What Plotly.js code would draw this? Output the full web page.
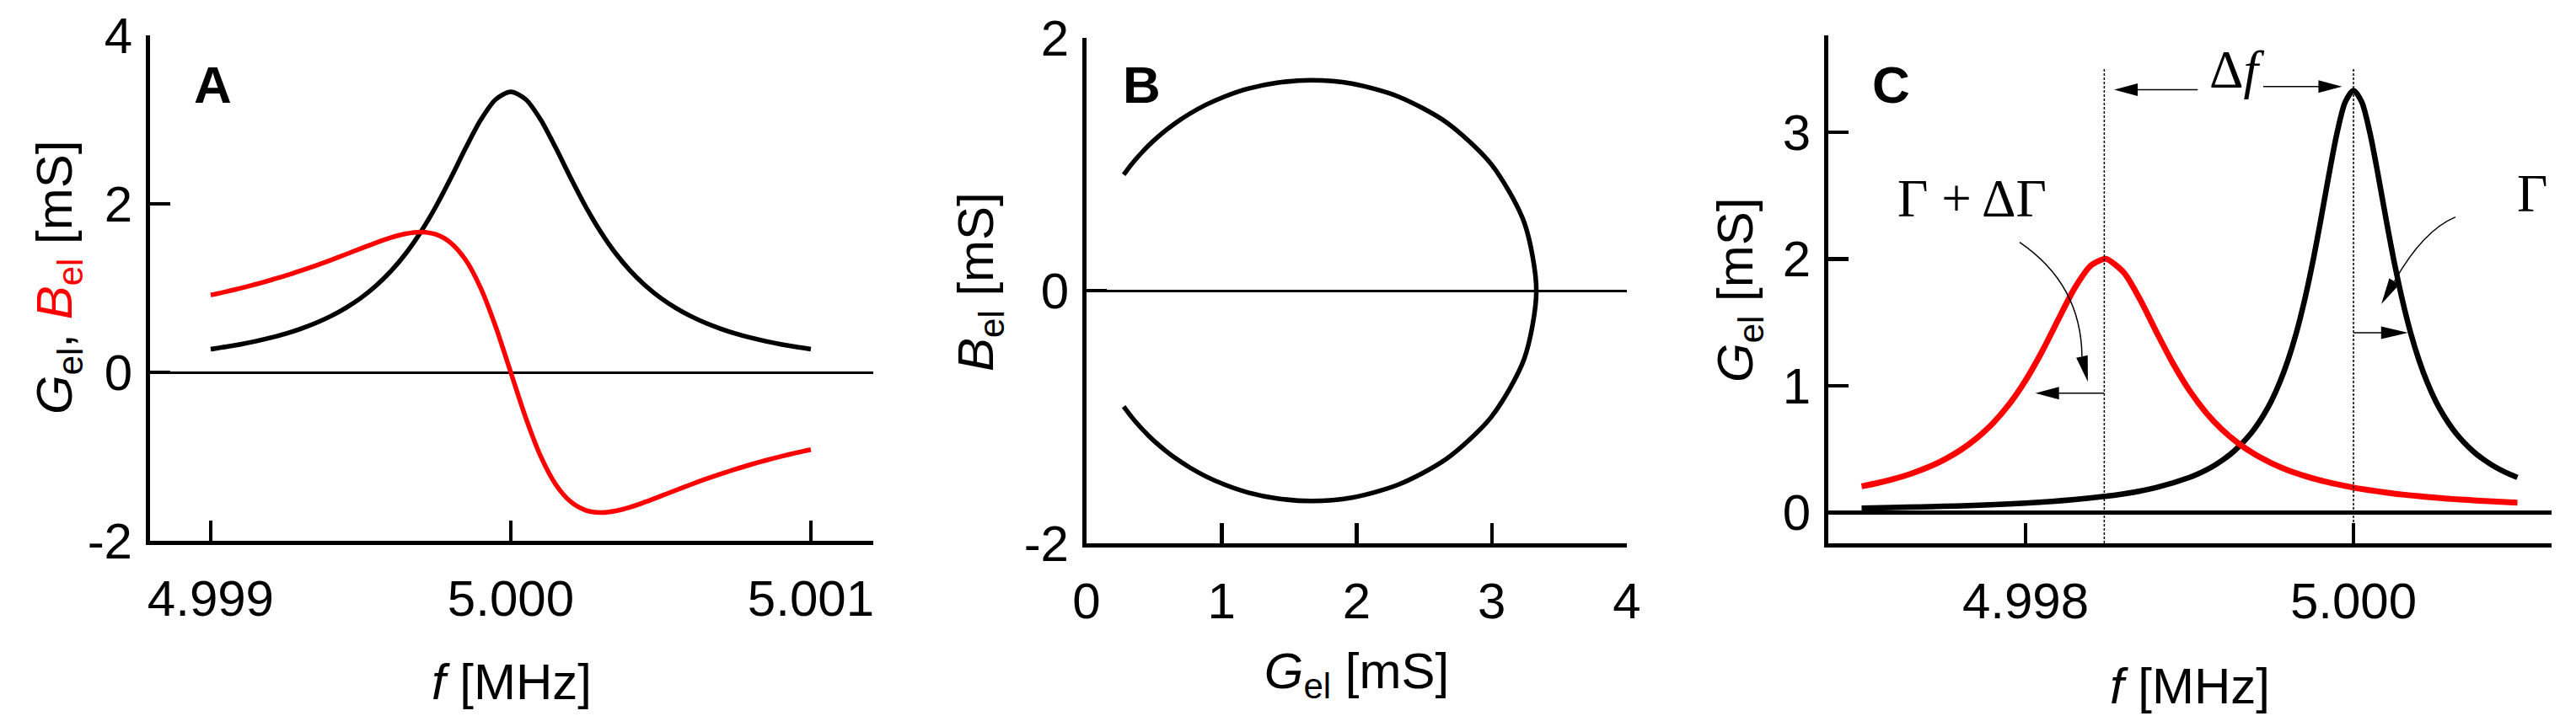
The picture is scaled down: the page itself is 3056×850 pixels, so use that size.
<!DOCTYPE html>
<html><head><meta charset="utf-8">
<script src="https://cdn.plot.ly/plotly-3.0.1.min.js"></script>
<style>html,body{margin:0;padding:0;background:#fff}</style>
</head><body>
<div id="chart" style="width:3056px;height:850px"></div>
<script>
// ---------- Data ----------
// Panels A and B: frequency [MHz], conductance G_el [mS], susceptance B_el [mS]
const freqA = [4.99900, 4.99905, 4.99910, 4.99915, 4.99920, 4.99925, 4.99930, 4.99935, 4.99940, 4.99945,
               4.99950, 4.99955, 4.99960, 4.99965, 4.99970, 4.99975, 4.99980, 4.99985, 4.99990, 4.99995,
               5.00000,
               5.00005, 5.00010, 5.00015, 5.00020, 5.00025, 5.00030, 5.00035, 5.00040, 5.00045, 5.00050,
               5.00055, 5.00060, 5.00065, 5.00070, 5.00075, 5.00080, 5.00085, 5.00090, 5.00095, 5.00100];
const condA = [0.275, 0.302, 0.333, 0.369, 0.411, 0.459, 0.517, 0.585, 0.666, 0.764,
               0.881, 1.025, 1.199, 1.410, 1.665, 1.965, 2.305, 2.664, 2.997, 3.240,
               3.330,
               3.240, 2.997, 2.664, 2.305, 1.965, 1.665, 1.410, 1.199, 1.025, 0.881,
               0.764, 0.666, 0.585, 0.517, 0.459, 0.411, 0.369, 0.333, 0.302, 0.275];
const suscA = [0.917, 0.956, 0.999, 1.045, 1.095, 1.148, 1.206, 1.267, 1.332, 1.400,
               1.469, 1.537, 1.599, 1.645, 1.665, 1.638, 1.537, 1.332, 0.999, 0.540,
               0.000,
               -0.540, -0.999, -1.332, -1.537, -1.638, -1.665, -1.645, -1.599, -1.537, -1.469,
               -1.400, -1.332, -1.267, -1.206, -1.148, -1.095, -1.045, -0.999, -0.956, -0.917];

// Panel C: low-frequency tail of the unloaded resonance (joined to freqA/condA)
const freqCtail = [4.9970, 4.9975, 4.9980, 4.9983, 4.9986, 4.9988];
const condCtail = [0.033, 0.047, 0.073, 0.101, 0.146, 0.196];

// Panel C: loaded resonance (shifted by Δf, broadened by ΔΓ)
const freqCred = [4.9970, 4.9971, 4.9972, 4.9973, 4.9974, 4.9975, 4.9976, 4.9977, 4.9978, 4.9979,
                  4.9980, 4.9981, 4.9982, 4.9983, 4.9984, 4.99848, 4.9985, 4.9986, 4.9987, 4.9988,
                  4.9989, 4.9990, 4.9991, 4.9992, 4.9993, 4.9994, 4.9995, 4.9996, 4.9997, 4.9998,
                  4.9999, 5.0000, 5.0001, 5.0002, 5.0003, 5.0004, 5.0005, 5.0006, 5.0007, 5.0008,
                  5.0009, 5.0010];
const condCred = [0.205, 0.232, 0.265, 0.304, 0.353, 0.413, 0.488, 0.583, 0.702, 0.853,
                  1.041, 1.268, 1.523, 1.771, 1.950, 2.000, 1.997, 1.891, 1.676, 1.419,
                  1.173, 0.961, 0.788, 0.651, 0.542, 0.456, 0.388, 0.332, 0.288, 0.251,
                  0.221, 0.195, 0.174, 0.156, 0.140, 0.127, 0.116, 0.105, 0.097, 0.089,
                  0.082, 0.076];

// Tick values / labels
const ticksAx = [4.999, 5.000, 5.001];
const ticksAxText = ['4.999', '5.000', '5.001'];
const ticksAy = [-2, 0, 2, 4];
const ticksAyText = ['-2', '0', '2', '4'];
const ticksBx = [0, 1, 2, 3, 4];
const ticksBy = [-2, 0, 2];
const ticksByText = ['-2', '0', '2'];
const ticksCx = [4.998, 5.000];
const ticksCxText = ['4.998', '5.000'];
const ticksCy = [0, 1, 2, 3];

// ---------- Styling ----------
const SANS = 'Liberation Sans, Arial, sans-serif';
const SERIF = 'Liberation Serif, Times New Roman, serif';
const W = 3056, H = 850;
const px = v => v / W;
const py = v => 1 - v / H;

function axis(o) {
  return Object.assign({
    showline: true, linecolor: '#000', linewidth: 5,
    ticks: 'inside', ticklen: 24, tickwidth: 4.5, tickcolor: '#000',
    showgrid: false, zeroline: false, fixedrange: true,
    tickfont: {family: SANS, size: 60, color: '#000'}
  }, o);
}
function ttl(text, standoff) {
  return {text: text, standoff: standoff, font: {family: SANS, size: 60, color: '#000'}};
}

const traces = [
  {x: freqA, y: condA, xaxis: 'x', yaxis: 'y', mode: 'lines',
   line: {color: '#000', width: 5.5, shape: 'spline', smoothing: 0.8}},
  {x: freqA, y: suscA, xaxis: 'x', yaxis: 'y', mode: 'lines',
   line: {color: '#ff0000', width: 5.5, shape: 'spline', smoothing: 0.8}},
  {x: condA, y: suscA, xaxis: 'x2', yaxis: 'y2', mode: 'lines',
   line: {color: '#000', width: 5.5, shape: 'spline', smoothing: 0.8}},
  {x: freqCtail.concat(freqA), y: condCtail.concat(condA), xaxis: 'x3', yaxis: 'y3', mode: 'lines',
   line: {color: '#000', width: 6.5, shape: 'spline', smoothing: 0.8}},
  {x: freqCred, y: condCred, xaxis: 'x3', yaxis: 'y3', mode: 'lines',
   line: {color: '#ff0000', width: 7, shape: 'spline', smoothing: 0.8}}
];

function head(xa, ya, path) {
  return {type: 'path', xref: 'x3', yref: 'y3', xsizemode: 'pixel', ysizemode: 'pixel',
          xanchor: xa, yanchor: ya, path: path, fillcolor: '#000', line: {width: 0}};
}
function seg(x0, y0, x1, y1, extra) {
  return Object.assign({type: 'line', xref: 'x3', yref: 'y3', x0: x0, y0: y0, x1: x1, y1: y1,
                        line: {color: '#000', width: 1.5}}, extra || {});
}

const shapes = [
  seg(4.99848, -0.245, 4.99848, 3.51, {line: {color: '#000', width: 1.5, dash: '3px,2px'}}),
  seg(5.00000, -0.245, 5.00000, 3.51, {line: {color: '#000', width: 1.5, dash: '3px,2px'}}),
  // Δf arrows
  seg(4.99905, 3.336, 4.99856, 3.336),
  head(4.99854, 3.336, 'M0,0 L28,7.5 L28,-7.5 Z'),
  seg(4.99945, 3.361, 4.99991, 3.361),
  head(4.99993, 3.361, 'M0,0 L-28,7.5 L-28,-7.5 Z'),
  // half-width arrows
  seg(5.00000, 1.417, 5.00031, 1.417),
  head(5.000333, 1.417, 'M0,0 L-32,7.5 L-32,-7.5 Z'),
  seg(4.99848, 0.94, 4.99808, 0.94),
  head(4.998060, 0.94, 'M0,0 L28,7.5 L28,-7.5 Z'),
  // curved pointers
  {type: 'path', xref: 'x3', yref: 'y3', path: 'M4.997964,2.132 Q4.99834,1.80 4.998344,1.23',
   line: {color: '#000', width: 1.5}, fillcolor: 'rgba(0,0,0,0)'},
  head(4.99838, 1.03, 'M0,0 L-0.2,31.6 L-13.8,28.4 Z'),
  {type: 'path', xref: 'x3', yref: 'y3', path: 'M5.000622,2.331 Q5.000423,2.223 5.000250,1.824',
   line: {color: '#000', width: 1.5}, fillcolor: 'rgba(0,0,0,0)'},
  head(5.000170, 1.644, 'M0,0 L21.6,23.5 L9.4,30.5 Z')
];

function ytitle(xpx, ypx, text) {
  return {xref: 'paper', yref: 'paper', x: px(xpx), y: py(ypx), text: text, showarrow: false,
          textangle: -90, xanchor: 'center', yanchor: 'middle',
          font: {family: SANS, size: 60, color: '#000'}};
}

const annotations = [
  {xref: 'paper', yref: 'paper', x: px(252), y: py(100), text: '<b>A</b>', showarrow: false,
   xanchor: 'center', yanchor: 'middle', font: {family: SANS, size: 62, color: '#000'}},
  {xref: 'paper', yref: 'paper', x: px(1354), y: py(100), text: '<b>B</b>', showarrow: false,
   xanchor: 'center', yanchor: 'middle', font: {family: SANS, size: 62, color: '#000'}},
  {xref: 'paper', yref: 'paper', x: px(2243), y: py(100), text: '<b>C</b>', showarrow: false,
   xanchor: 'center', yanchor: 'middle', font: {family: SANS, size: 62, color: '#000'}},
  // y-axis titles
  ytitle(69, 330, '<i>G</i><sub>el</sub>, <span style="color:#ff0000"><i>B</i><sub>el</sub></span> [mS]'),
  ytitle(1162, 335, '<i>B</i><sub>el</sub> [mS]'),
  ytitle(2063, 345, '<i>G</i><sub>el</sub> [mS]'),
  // panel C labels
  {xref: 'x3', yref: 'y3', x: 4.997676, y: 2.472, text: 'Γ + ΔΓ', showarrow: false,
   xanchor: 'center', yanchor: 'middle', font: {family: SERIF, size: 63, color: '#000'}},
  {xref: 'x3', yref: 'y3', x: 5.00109, y: 2.515, text: 'Γ', showarrow: false,
   xanchor: 'center', yanchor: 'middle', font: {family: SERIF, size: 63, color: '#000'}},
  {xref: 'x3', yref: 'y3', x: 4.99929, y: 3.49, text: 'Δ<i>f</i>', showarrow: false,
   xanchor: 'center', yanchor: 'middle', font: {family: SERIF, size: 63, color: '#000'}}
];

const layout = {
  width: W, height: H, showlegend: false,
  paper_bgcolor: '#fff', plot_bgcolor: 'rgba(0,0,0,0)',
  margin: {l: 0, r: 0, t: 0, b: 0, pad: 0},
  xaxis: axis({domain: [px(178), px(1036)], range: [4.998798, 5.001208], anchor: 'y',
               tickvals: ticksAx, ticktext: ticksAxText, ticklabelstandoff: 12,
               title: ttl('<i>f</i> [MHz]', 46)}),
  yaxis: axis({domain: [py(642), py(42)], range: [-2, 4], anchor: 'x',
               tickvals: ticksAy, ticktext: ticksAyText,
               ticklabelstandoff: 4, zeroline: true, zerolinecolor: '#000', zerolinewidth: 3}),
  xaxis2: axis({domain: [px(1289), px(1930)], range: [0, 4], anchor: 'y2', tickvals: ticksBx,
                ticklabelstandoff: 12, title: ttl('<i>G</i><sub>el</sub> [mS]', 30)}),
  yaxis2: axis({domain: [py(645), py(45)], range: [-2, 2], anchor: 'x2',
                tickvals: ticksBy, ticktext: ticksByText,
                ticklabelstandoff: 4, zeroline: true, zerolinecolor: '#000', zerolinewidth: 3}),
  xaxis3: axis({domain: [px(2169), px(3027)], range: [4.996797, 5.001208], anchor: 'y3',
                tickvals: ticksCx, ticktext: ticksCxText, ticklabelstandoff: 12,
                title: ttl('<i>f</i> [MHz]', 48)}),
  yaxis3: axis({domain: [py(645), py(42)], range: [-0.245, 3.765], anchor: 'x3', tickvals: ticksCy,
                ticklabelstandoff: 4, zeroline: true, zerolinecolor: '#000', zerolinewidth: 5}),
  shapes: shapes,
  annotations: annotations
};

Plotly.newPlot('chart', traces, layout, {displayModeBar: false, staticPlot: true});
</script>
</body></html>
